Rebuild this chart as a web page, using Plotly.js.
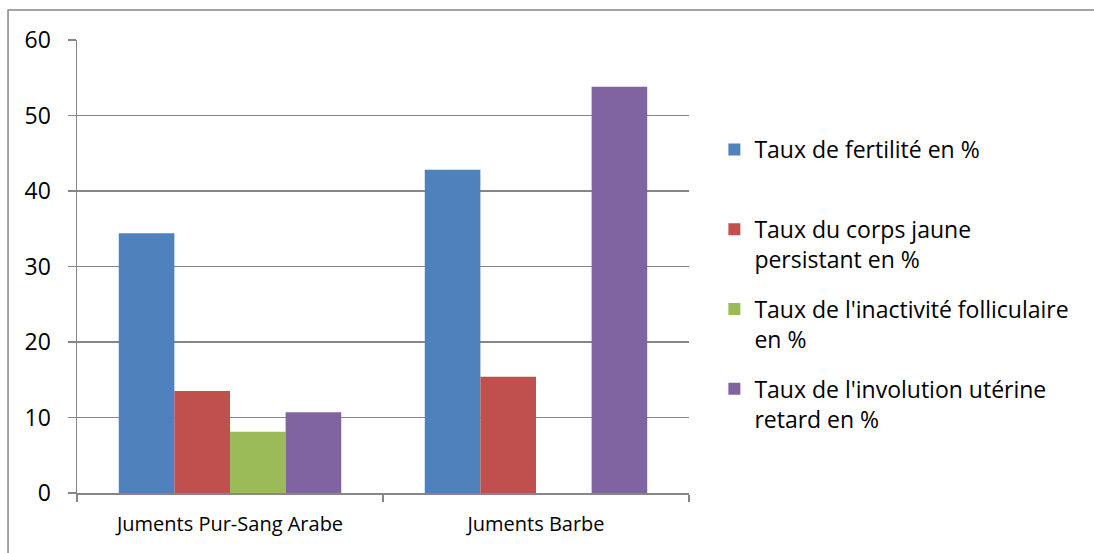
<!DOCTYPE html>
<html>
<head>
<meta charset="utf-8">
<script src="https://cdn.plot.ly/plotly-3.0.1.min.js"></script>
<style>html,body{margin:0;padding:0;background:#fff;}#chart{width:1094px;height:553px;}</style>
</head>
<body>
<div id="chart"></div>
<script>
const categories = ["Juments Pur-Sang Arabe", "Juments Barbe"];
const seriesNames = [
  "Taux de fertilité en %<br>&nbsp;",
  "Taux du corps jaune<br>persistant en %",
  "Taux de l'inactivité folliculaire<br>en %",
  "Taux de l'involution utérine<br>retard en %"
];
const fertilite = [34.4, 42.8];
const corpsJaune = [13.5, 15.4];
const inactivite = [8.1, 0];
const involution = [10.7, 53.8];
const colors = ["#4F81BD", "#C0504D", "#9BBB59", "#8064A2"];
const yTicks = [0, 10, 20, 30, 40, 50, 60];

const values = [fertilite, corpsJaune, inactivite, involution];
const FONT = "Open Sans, Noto Sans, sans-serif";

const traces = values.map((v, i) => ({
  type: "bar",
  x: categories,
  y: v,
  name: seriesNames[i],
  legendgroup: "g" + i,
  marker: {color: colors[i], line: {width: 0}},
  hoverinfo: "skip"
}));

const layout = {
  width: 1094,
  height: 553,
  margin: {l: 77, r: 405, t: 40, b: 60},
  paper_bgcolor: "#fff",
  plot_bgcolor: "#fff",
  barmode: "group",
  bargap: 0.273,
  bargroupgap: 0,
  font: {family: FONT, size: 20, color: "#000"},
  xaxis: {
    type: "category",
    tickson: "boundaries",
    ticks: "outside",
    ticklen: 7,
    tickcolor: "#868686",
    tickwidth: 1.5,
    showline: true,
    linecolor: "#868686",
    linewidth: 1.5,
    showgrid: false,
    tickfont: {family: FONT, size: 20, color: "#000"},
    ticklabelstandoff: 12,
    fixedrange: true
  },
  yaxis: {
    range: [0, 60],
    tickvals: yTicks,
    ticktext: yTicks.map(String),
    ticks: "outside",
    ticklen: 8,
    tickcolor: "#868686",
    tickwidth: 1.5,
    showline: true,
    linecolor: "#868686",
    linewidth: 1.5,
    showgrid: true,
    gridcolor: "#868686",
    gridwidth: 1.5,
    zeroline: false,
    tickfont: {family: FONT, size: 23, color: "#000"},
    ticklabelstandoff: 12,
    fixedrange: true
  },
  legend: {
    xref: "container",
    yref: "container",
    x: 0.653,
    y: 1 - 128 / 553,
    xanchor: "left",
    yanchor: "top",
    valign: "top",
    maxheight: 1,
    font: {family: FONT, size: 23, color: "#000"},
    tracegroupgap: 17,
    itemclick: false,
    itemdoubleclick: false,
    bgcolor: "rgba(0,0,0,0)"
  },
  showlegend: true,
  shapes: [{
    type: "rect",
    xref: "paper", yref: "paper",
    x0: -0.1127, x1: 1.8,
    y0: -0.2, y1: 1.066,
    line: {color: "#868686", width: 1.5},
    fillcolor: "rgba(0,0,0,0)",
    layer: "below"
  }]
};

Plotly.newPlot("chart", traces, layout, {staticPlot: true, displayModeBar: false});
</script>
</body>
</html>
